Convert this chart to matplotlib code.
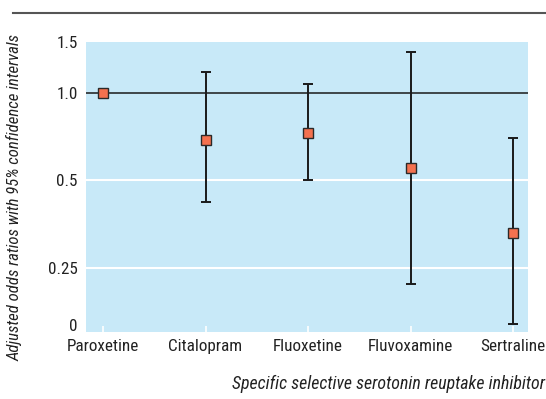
import matplotlib
matplotlib.use('Agg')
import matplotlib.pyplot as plt
from matplotlib.lines import Line2D
from matplotlib.ticker import NullLocator

categories = ['Paroxetine', 'Citalopram', 'Fluoxetine', 'Fluvoxamine', 'Sertraline']
odds = [1.0, 0.69, 0.73, 0.55, 0.33]
ci_low = [1.0, 0.42, 0.50, 0.22, 0.16]
ci_high = [1.0, 1.18, 1.07, 1.38, 0.70]
ytick_vals = [0.158, 0.25, 0.5, 1.0, 1.5]
ytick_labels = ['0', '0.25', '0.5', '1.0', '1.5']

plt.rcParams['font.family'] = ['Roboto Condensed', 'DejaVu Sans']

fig = plt.figure(figsize=(5.46, 3.99), dpi=100)
ax = fig.add_axes([0.1575, 0.168, 0.8095, 0.727])
ax.set_facecolor('#c8e9f8')
ax.set_yscale('log')
ax.set_ylim(0.15, 1.5)
ax.set_xlim(-0.166, 4.146)

for v in [0.25, 0.5]:
    ax.axhline(v, color='white', lw=1.5, zorder=1)
ax.axhline(1.0, color='#1a1a1a', lw=1.1, zorder=2)

x = list(range(len(categories)))
lo = [o - l for o, l in zip(odds, ci_low)]
hi = [h - o for o, h in zip(odds, ci_high)]
ax.errorbar(x[1:], odds[1:], yerr=[lo[1:], hi[1:]], fmt='none', ecolor='#1a1a1a',
            elinewidth=1.4, capsize=3.5, capthick=1.4, zorder=3)
ax.plot(x, odds, ls='none', marker='s', ms=7.5, mfc='#f4714f', mec='#2a2a2a', mew=1.0, zorder=4)

ax.set_xticks(x)
ax.set_xticklabels(categories, fontsize=12.3, color='#222222')
ax.tick_params(axis='x', direction='in', color='white', length=4, width=1.2, pad=5)
ax.set_yticks(ytick_vals)
ax.set_yticklabels(ytick_labels, fontsize=12.3, color='#222222')
ax.yaxis.set_minor_locator(NullLocator())
ax.tick_params(axis='y', length=0, pad=6)
for s in ax.spines.values():
    s.set_visible(False)

fig.text(0.027, 0.505, 'Adjusted odds ratios with 95% confidence intervals', rotation=90,
         style='italic', fontsize=12.1, color='#222222', ha='center', va='center')
fig.text(0.998, 0.038, 'Specific selective serotonin reuptake inhibitor', style='italic',
         fontsize=12.9, color='#222222', ha='right', va='center')
fig.add_artist(Line2D([13 / 546, 1.0], [1 - 13 / 399, 1 - 13 / 399], color='#555555', lw=1.5))

fig.savefig('out.png', dpi=100)
